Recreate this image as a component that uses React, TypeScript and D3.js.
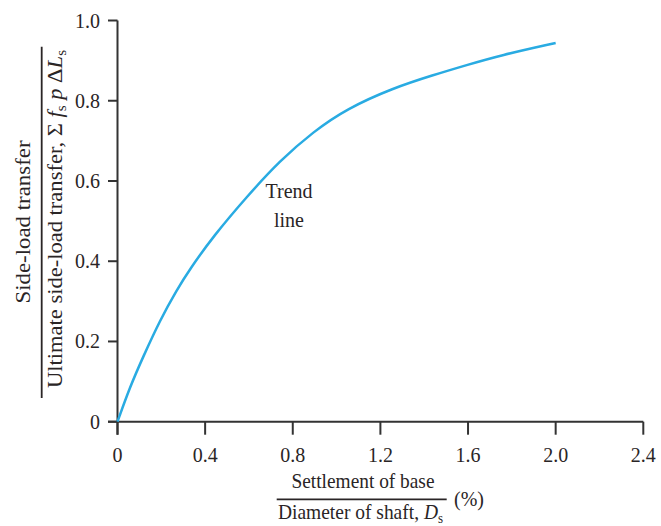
import React from "react";
import * as d3 from "d3";

const settlement = [0, 0.057, 0.118, 0.194, 0.27, 0.331, 0.437, 0.59, 0.742, 0.894, 1.046, 1.259, 1.441, 1.594, 1.746, 2.0];
const loadRatio = [0, 0.087, 0.163, 0.253, 0.328, 0.381, 0.462, 0.561, 0.651, 0.723, 0.78, 0.832, 0.864, 0.889, 0.913, 0.944];
const xTicks = [0, 0.4, 0.8, 1.2, 1.6, 2.0, 2.4];
const xTickLabels = ["0", "0.4", "0.8", "1.2", "1.6", "2.0", "2.4"];
const yTicks = [0, 0.2, 0.4, 0.6, 0.8, 1.0];
const yTickLabels = ["0", "0.2", "0.4", "0.6", "0.8", "1.0"];

const W = 661;
const H = 526;
const FONT = "'Liberation Serif', 'Times New Roman', serif";
const TEXT = "#2a2526";
const AXIS = "#333333";
const CURVE = "#29abe2";

export default function App() {
  const x = d3.scaleLinear().domain([0, 2.4]).range([117.5, 643.3]);
  const y = d3.scaleLinear().domain([0, 1]).range([421.7, 20.5]);
  const pts = settlement.map((s, i) => [s, loadRatio[i]] as [number, number]);
  const line = d3
    .line<[number, number]>()
    .x((d) => x(d[0]))
    .y((d) => y(d[1]))
    .curve(d3.curveBasis);

  return (
    <svg
      width={W}
      height={H}
      style={{ position: "absolute", left: 0, top: 0, background: "#fff" }}
      fontFamily={FONT}
    >
      {/* axes */}
      <line x1={x(0)} x2={x(0)} y1={y(1)} y2={y(0) + 13} stroke={AXIS} strokeWidth={2} />
      <line x1={x(0) - 9.5} x2={x(2.4)} y1={y(0)} y2={y(0)} stroke={AXIS} strokeWidth={2} />
      {yTicks.map((t, i) => (
        <g key={"y" + i}>
          <line x1={x(0) - 9.5} x2={x(0)} y1={y(t)} y2={y(t)} stroke={AXIS} strokeWidth={2} />
          <text x={100} y={y(t) + 7} textAnchor="end" fontSize={20} fill={TEXT}>
            {yTickLabels[i]}
          </text>
        </g>
      ))}
      {xTicks.map((t, i) => (
        <g key={"x" + i}>
          <line x1={x(t)} x2={x(t)} y1={y(0)} y2={y(0) + 13} stroke={AXIS} strokeWidth={2} />
          <text x={x(t)} y={462} textAnchor="middle" fontSize={20} fill={TEXT}>
            {xTickLabels[i]}
          </text>
        </g>
      ))}

      {/* curve */}
      <path d={line(pts) || ""} fill="none" stroke={CURVE} strokeWidth={2.5} />

      {/* annotation */}
      <text x={289} y={198} textAnchor="middle" fontSize={20} fill={TEXT}>
        Trend
      </text>
      <text x={289} y={227} textAnchor="middle" fontSize={20} fill={TEXT}>
        line
      </text>

      {/* y title */}
      <g transform="translate(30,222) rotate(-90)">
        <text x={0} y={0} textAnchor="middle" fontSize={21} fill={TEXT} textLength={163} lengthAdjust="spacingAndGlyphs">
          Side-load transfer
        </text>
      </g>
      <line x1={41.7} x2={41.7} y1={46.7} y2={398} stroke={TEXT} strokeWidth={1.8} />
      <g transform="translate(62,219) rotate(-90)">
        <text x={0} y={0} textAnchor="middle" fontSize={21} fill={TEXT} textLength={338} lengthAdjust="spacingAndGlyphs">
          Ultimate side-load transfer, Σ{" "}
          <tspan fontStyle="italic">f</tspan>
          <tspan fontSize={14} dy={4}>s</tspan>
          <tspan dy={-4}> </tspan>
          <tspan fontStyle="italic">p</tspan> Δ
          <tspan fontStyle="italic">L</tspan>
          <tspan fontSize={14} dy={4}>s</tspan>
        </text>
      </g>

      {/* x title */}
      <text x={363} y={488} textAnchor="middle" fontSize={21} fill={TEXT} textLength={143} lengthAdjust="spacingAndGlyphs">
        Settlement of base
      </text>
      <line x1={276.7} x2={446.7} y1={499.3} y2={499.3} stroke={TEXT} strokeWidth={1.8} />
      <text x={360.5} y={519} textAnchor="middle" fontSize={21} fill={TEXT} textLength={165} lengthAdjust="spacingAndGlyphs">
        Diameter of shaft, <tspan fontStyle="italic">D</tspan>
        <tspan fontSize={14} dy={4}>s</tspan>
      </text>
      <text x={454} y={506} fontSize={20} fill={TEXT}>
        (%)
      </text>
    </svg>
  );
}
